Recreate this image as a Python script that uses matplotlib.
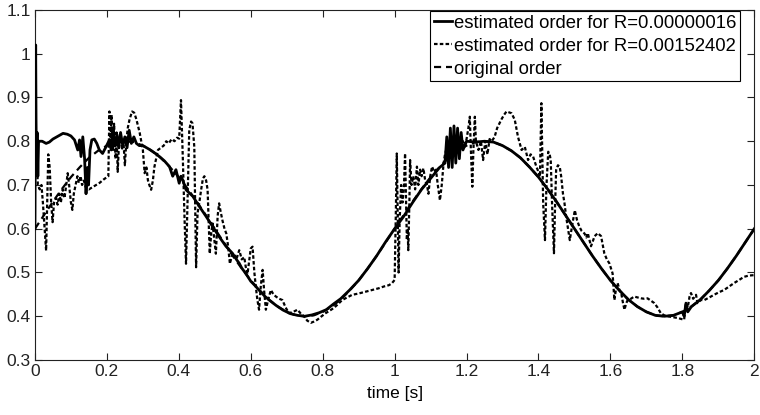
import matplotlib
matplotlib.use("Agg")
import matplotlib.pyplot as plt

plt.rcParams['font.family'] = ['Liberation Sans', 'DejaVu Sans']

# original order
orig_t = [0.000, 0.025, 0.050, 0.075, 0.100, 0.125, 0.150, 0.175, 0.200, 0.225,
          0.250, 0.275, 0.300, 0.325, 0.350, 0.375, 0.400, 0.425, 0.450, 0.475,
          0.500, 0.525, 0.550, 0.575, 0.600, 0.625, 0.650, 0.675, 0.700, 0.725,
          0.750, 0.775, 0.800, 0.825, 0.850, 0.875, 0.900, 0.925, 0.950, 0.975,
          1.000, 1.025, 1.050, 1.075, 1.100, 1.125, 1.150, 1.175, 1.200, 1.225,
          1.250, 1.275, 1.300, 1.325, 1.350, 1.375, 1.400, 1.425, 1.450, 1.475,
          1.500, 1.525, 1.550, 1.575, 1.600, 1.625, 1.650, 1.675, 1.700, 1.725,
          1.750, 1.775, 1.800, 1.825, 1.850, 1.875, 1.900, 1.925, 1.950, 1.975,
          2.000]
orig_y = [0.600, 0.631, 0.662, 0.691, 0.718, 0.741, 0.762, 0.778, 0.790, 0.798,
          0.800, 0.798, 0.790, 0.778, 0.762, 0.741, 0.718, 0.691, 0.662, 0.631,
          0.600, 0.569, 0.538, 0.509, 0.482, 0.459, 0.438, 0.422, 0.410, 0.402,
          0.400, 0.402, 0.410, 0.422, 0.438, 0.459, 0.482, 0.509, 0.538, 0.569,
          0.600, 0.631, 0.662, 0.691, 0.718, 0.741, 0.762, 0.778, 0.790, 0.798,
          0.800, 0.798, 0.790, 0.778, 0.762, 0.741, 0.718, 0.691, 0.662, 0.631,
          0.600, 0.569, 0.538, 0.509, 0.482, 0.459, 0.438, 0.422, 0.410, 0.402,
          0.400, 0.402, 0.410, 0.422, 0.438, 0.459, 0.482, 0.509, 0.538, 0.569,
          0.600]

# estimated order for R=0.00000016
est1_t = [0.000, 0.001, 0.002, 0.003, 0.004, 0.006, 0.008, 0.010, 0.013, 0.020,
          0.031, 0.040, 0.050, 0.065, 0.078, 0.090, 0.100, 0.110, 0.119, 0.124,
          0.128, 0.133, 0.138, 0.142, 0.146, 0.149, 0.153, 0.158, 0.165, 0.172,
          0.179, 0.188, 0.198, 0.207, 0.212, 0.216, 0.222, 0.228, 0.233, 0.238,
          0.244, 0.250, 0.256, 0.262, 0.268, 0.275, 0.282, 0.290, 0.300, 0.319,
          0.335, 0.346, 0.360, 0.374, 0.383, 0.392, 0.401, 0.406, 0.411, 0.420,
          0.439, 0.457, 0.476, 0.494, 0.512, 0.531, 0.549, 0.560, 0.568, 0.575,
          0.586, 0.600, 0.612, 0.625, 0.640, 0.650, 0.670, 0.690, 0.710, 0.730,
          0.750, 0.770, 0.790, 0.810, 0.830, 0.850, 0.875, 0.900, 0.925, 0.950,
          0.975, 1.000, 1.025, 1.050, 1.075, 1.100, 1.125, 1.140, 1.145, 1.150,
          1.155, 1.160, 1.165, 1.170, 1.175, 1.180, 1.185, 1.190, 1.200, 1.225,
          1.250, 1.275, 1.300, 1.325, 1.350, 1.375, 1.400, 1.425, 1.450, 1.475,
          1.500, 1.525, 1.550, 1.575, 1.600, 1.625, 1.650, 1.675, 1.700, 1.725,
          1.750, 1.775, 1.800, 1.805, 1.810, 1.815, 1.825, 1.850, 1.875, 1.900,
          1.925, 1.950, 1.975, 2.000]
est1_y = [0.600, 0.800, 1.020, 0.850, 0.760, 0.820, 0.720, 0.800, 0.800, 0.800,
          0.795, 0.798, 0.805, 0.812, 0.818, 0.816, 0.812, 0.803, 0.780, 0.803,
          0.765, 0.810, 0.760, 0.680, 0.740, 0.700, 0.780, 0.803, 0.805, 0.795,
          0.780, 0.772, 0.788, 0.803, 0.780, 0.826, 0.790, 0.815, 0.785, 0.820,
          0.790, 0.810, 0.785, 0.825, 0.795, 0.810, 0.795, 0.790, 0.790, 0.781,
          0.772, 0.765, 0.755, 0.742, 0.720, 0.735, 0.704, 0.720, 0.711, 0.689,
          0.674, 0.651, 0.628, 0.605, 0.582, 0.560, 0.544, 0.530, 0.521, 0.510,
          0.498, 0.480, 0.470, 0.458, 0.445, 0.438, 0.425, 0.414, 0.406, 0.402,
          0.400, 0.403, 0.408, 0.415, 0.428, 0.440, 0.460, 0.482, 0.509, 0.538,
          0.570, 0.600, 0.628, 0.660, 0.690, 0.715, 0.740, 0.750, 0.810, 0.740,
          0.830, 0.740, 0.835, 0.750, 0.830, 0.760, 0.820, 0.780, 0.800, 0.798,
          0.800, 0.798, 0.790, 0.778, 0.762, 0.741, 0.718, 0.691, 0.662, 0.631,
          0.600, 0.569, 0.538, 0.509, 0.482, 0.459, 0.438, 0.422, 0.410, 0.402,
          0.400, 0.402, 0.410, 0.400, 0.430, 0.410, 0.422, 0.438, 0.459, 0.482,
          0.509, 0.538, 0.569, 0.600]

# estimated order for R=0.00152402
est2_t = [0.000, 0.004, 0.008, 0.013, 0.018, 0.022, 0.027, 0.031, 0.034, 0.037,
          0.041, 0.045, 0.049, 0.053, 0.058, 0.063, 0.068, 0.072, 0.077, 0.082,
          0.087, 0.091, 0.095, 0.100, 0.104, 0.108, 0.113, 0.118, 0.122, 0.127,
          0.131, 0.136, 0.141, 0.150, 0.160, 0.170, 0.180, 0.190, 0.200, 0.204,
          0.207, 0.210, 0.213, 0.217, 0.220, 0.224, 0.227, 0.230, 0.234, 0.238,
          0.242, 0.246, 0.250, 0.254, 0.258, 0.263, 0.270, 0.276, 0.282, 0.291,
          0.300, 0.305, 0.310, 0.314, 0.318, 0.323, 0.328, 0.332, 0.337, 0.342,
          0.350, 0.358, 0.365, 0.372, 0.380, 0.388, 0.395, 0.401, 0.406, 0.411,
          0.416, 0.420, 0.425, 0.429, 0.434, 0.438, 0.443, 0.448, 0.452, 0.457,
          0.462, 0.467, 0.471, 0.476, 0.480, 0.486, 0.490, 0.494, 0.498, 0.503,
          0.508, 0.512, 0.516, 0.521, 0.527, 0.532, 0.537, 0.542, 0.548, 0.554,
          0.560, 0.568, 0.575, 0.582, 0.586, 0.591, 0.596, 0.600, 0.605, 0.610,
          0.614, 0.618, 0.623, 0.628, 0.633, 0.637, 0.642, 0.649, 0.656, 0.663,
          0.670, 0.679, 0.688, 0.697, 0.706, 0.718, 0.730, 0.740, 0.748, 0.757,
          0.767, 0.776, 0.785, 0.797, 0.808, 0.820, 0.831, 0.843, 0.854, 0.868,
          0.882, 0.900, 0.919, 0.937, 0.956, 0.970, 0.984, 0.992, 1.000, 1.003,
          1.006, 1.009, 1.011, 1.014, 1.018, 1.022, 1.026, 1.029, 1.032, 1.034,
          1.036, 1.038, 1.041, 1.043, 1.047, 1.052, 1.057, 1.062, 1.066, 1.071,
          1.075, 1.080, 1.085, 1.090, 1.094, 1.099, 1.104, 1.110, 1.115, 1.120,
          1.126, 1.131, 1.136, 1.140, 1.145, 1.150, 1.154, 1.160, 1.168, 1.175,
          1.182, 1.190, 1.195, 1.200, 1.205, 1.209, 1.212, 1.216, 1.219, 1.223,
          1.226, 1.233, 1.240, 1.246, 1.252, 1.258, 1.264, 1.270, 1.278, 1.285,
          1.297, 1.304, 1.311, 1.318, 1.325, 1.334, 1.343, 1.353, 1.362, 1.371,
          1.378, 1.385, 1.394, 1.400, 1.404, 1.408, 1.411, 1.413, 1.418, 1.420,
          1.422, 1.427, 1.431, 1.434, 1.438, 1.443, 1.446, 1.449, 1.454, 1.459,
          1.463, 1.468, 1.472, 1.477, 1.482, 1.487, 1.494, 1.501, 1.507, 1.514,
          1.520, 1.528, 1.533, 1.537, 1.546, 1.556, 1.565, 1.574, 1.583, 1.590,
          1.597, 1.606, 1.611, 1.615, 1.620, 1.625, 1.630, 1.635, 1.639, 1.644,
          1.648, 1.657, 1.666, 1.675, 1.685, 1.694, 1.703, 1.712, 1.722, 1.731,
          1.740, 1.750, 1.759, 1.773, 1.787, 1.796, 1.805, 1.808, 1.810, 1.815,
          1.820, 1.824, 1.830, 1.838, 1.842, 1.851, 1.861, 1.875, 1.888, 1.902,
          1.916, 1.930, 1.944, 1.958, 1.971, 1.985, 2.000]
est2_y = [0.720, 0.780, 0.700, 0.690, 0.700, 0.660, 0.600, 0.550, 0.660, 0.770,
          0.740, 0.660, 0.615, 0.660, 0.670, 0.655, 0.680, 0.660, 0.690, 0.670,
          0.700, 0.727, 0.700, 0.660, 0.643, 0.680, 0.700, 0.720, 0.705, 0.720,
          0.700, 0.710, 0.695, 0.690, 0.695, 0.700, 0.705, 0.712, 0.718, 0.720,
          0.868, 0.800, 0.860, 0.780, 0.840, 0.760, 0.820, 0.730, 0.800, 0.820,
          0.780, 0.800, 0.745, 0.800, 0.830, 0.850, 0.868, 0.865, 0.850, 0.820,
          0.780, 0.727, 0.740, 0.711, 0.700, 0.689, 0.711, 0.741, 0.760, 0.780,
          0.785, 0.790, 0.800, 0.795, 0.805, 0.800, 0.808, 0.806, 0.894, 0.764,
          0.620, 0.520, 0.689, 0.826, 0.845, 0.841, 0.787, 0.512, 0.635, 0.660,
          0.689, 0.715, 0.720, 0.710, 0.689, 0.543, 0.590, 0.612, 0.580, 0.543,
          0.630, 0.658, 0.640, 0.620, 0.600, 0.589, 0.560, 0.520, 0.540, 0.543,
          0.530, 0.551, 0.530, 0.535, 0.513, 0.497, 0.530, 0.555, 0.559, 0.500,
          0.468, 0.440, 0.415, 0.470, 0.506, 0.460, 0.415, 0.440, 0.460, 0.450,
          0.445, 0.440, 0.437, 0.420, 0.407, 0.410, 0.415, 0.405, 0.400, 0.390,
          0.385, 0.388, 0.392, 0.400, 0.407, 0.413, 0.419, 0.428, 0.437, 0.443,
          0.449, 0.452, 0.456, 0.460, 0.464, 0.468, 0.471, 0.475, 0.483, 0.620,
          0.772, 0.600, 0.500, 0.620, 0.700, 0.660, 0.700, 0.772, 0.650, 0.574,
          0.600, 0.551, 0.660, 0.757, 0.700, 0.720, 0.690, 0.742, 0.700, 0.735,
          0.720, 0.738, 0.710, 0.700, 0.680, 0.720, 0.742, 0.730, 0.735, 0.700,
          0.665, 0.700, 0.749, 0.770, 0.785, 0.795, 0.802, 0.790, 0.780, 0.790,
          0.795, 0.800, 0.790, 0.805, 0.830, 0.856, 0.780, 0.696, 0.780, 0.856,
          0.800, 0.780, 0.800, 0.757, 0.800, 0.770, 0.805, 0.800, 0.810, 0.830,
          0.850, 0.860, 0.868, 0.866, 0.864, 0.849, 0.810, 0.780, 0.787, 0.757,
          0.770, 0.765, 0.742, 0.730, 0.719, 0.887, 0.750, 0.658, 0.574, 0.640,
          0.696, 0.776, 0.770, 0.757, 0.650, 0.544, 0.650, 0.734, 0.745, 0.742,
          0.720, 0.680, 0.660, 0.627, 0.600, 0.574, 0.610, 0.642, 0.620, 0.604,
          0.595, 0.589, 0.580, 0.590, 0.560, 0.583, 0.590, 0.583, 0.544, 0.530,
          0.521, 0.498, 0.437, 0.460, 0.476, 0.460, 0.453, 0.430, 0.415, 0.430,
          0.437, 0.440, 0.445, 0.443, 0.441, 0.440, 0.441, 0.436, 0.430, 0.420,
          0.407, 0.402, 0.400, 0.398, 0.396, 0.394, 0.392, 0.420, 0.430, 0.420,
          0.445, 0.453, 0.440, 0.449, 0.430, 0.437, 0.437, 0.443, 0.449, 0.455,
          0.460, 0.468, 0.476, 0.483, 0.490, 0.493, 0.494]

labels = ['estimated order for R=0.00000016',
          'estimated order for R=0.00152402',
          'original order']
x_ticks = [0, 0.2, 0.4, 0.6, 0.8, 1, 1.2, 1.4, 1.6, 1.8, 2]
x_ticklabels = ['0', '0.2', '0.4', '0.6', '0.8', '1', '1.2', '1.4', '1.6', '1.8', '2']
y_ticks = [0.3, 0.4, 0.5, 0.6, 0.7, 0.8, 0.9, 1.0, 1.1]
y_ticklabels = ['0.3', '0.4', '0.5', '0.6', '0.7', '0.8', '0.9', '1', '1.1']

fig = plt.figure(figsize=(7.6, 4.15), dpi=100)
ax = fig.add_axes([0.046, 0.1325, 0.9465, 0.8435])

ax.plot(est1_t, est1_y, color='black', lw=2.0, ls='-', label=labels[0], zorder=3)
ax.plot(est2_t, est2_y, color='black', lw=1.6, ls=(0, (1.6, 1.0)), label=labels[1], zorder=2)
ax.plot(orig_t, orig_y, color='black', lw=1.6, ls=(0, (3.2, 2.2)), label=labels[2], zorder=2)

ax.set_xlim(0, 2)
ax.set_ylim(0.3, 1.1)
ax.set_xticks(x_ticks)
ax.set_xticklabels(x_ticklabels)
ax.set_yticks(y_ticks)
ax.set_yticklabels(y_ticklabels)
ax.tick_params(direction='in', top=True, right=True, labelsize=12.5, length=5,
               width=0.8, pad=3, colors='#222222')
for s in ax.spines.values():
    s.set_linewidth(0.8)
    s.set_color('#222222')
ax.set_xlabel('time [s]', fontsize=12.5, labelpad=5)

leg = ax.legend(loc='upper right', bbox_to_anchor=(740 / 760, 1 - 11 / 415),
                bbox_transform=fig.transFigure,
                fontsize=13.3, frameon=True, fancybox=False,
                edgecolor='black', framealpha=1, borderaxespad=0,
                handlelength=0.95, handletextpad=0.12, borderpad=0.2,
                labelspacing=0.32)
leg.get_frame().set_linewidth(0.8)

fig.savefig('out.png', dpi=100)
